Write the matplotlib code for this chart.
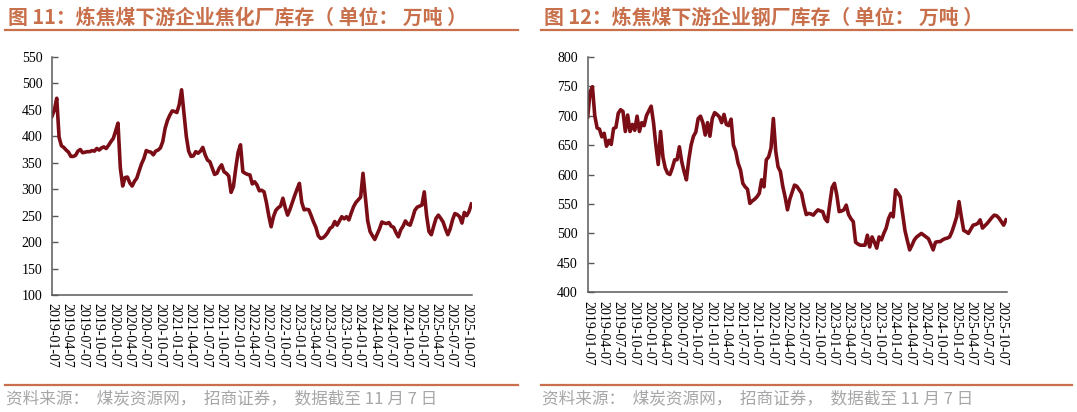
import matplotlib
matplotlib.use("Agg")
import matplotlib.pyplot as plt
import matplotlib.dates as mdates
from matplotlib.lines import Line2D
import pandas as pd

plt.rcParams['font.family'] = ['Liberation Serif', 'Noto Sans CJK SC', 'DejaVu Sans']

# biweekly readings, one row per half year, starting 2019-01-07
START = "2019-01-07"
coking_stock = [
    438, 450, 472, 398, 382, 379, 374, 370, 362, 362, 364, 372, 375,
    369, 370, 371, 371, 373, 372, 377, 374, 378, 380, 377, 383, 390,
    396, 410, 425, 340, 306, 322, 323, 312, 306, 315, 321, 335, 348,
    358, 373, 371, 370, 365, 372, 374, 378, 390, 415, 430, 440, 448,
    447, 445, 460, 488, 445, 400, 372, 362, 363, 371, 368, 372, 379,
    365, 355, 352, 340, 328, 330, 340, 346, 333, 330, 325, 294, 305,
    340, 370, 384, 333, 330, 328, 327, 310, 314, 308, 297, 298, 295,
    275, 250, 229, 248, 260, 265, 268, 283, 265, 251, 262, 275, 288,
    300, 311, 275, 261, 262, 261, 250, 238, 228, 212, 207, 208, 212,
    218, 226, 229, 239, 232, 240, 248, 244, 248, 242, 255, 267, 275,
    280, 285, 330, 285, 240, 220, 212, 205, 215, 225, 238, 236, 235,
    237, 230, 228, 218, 210, 223, 230, 240, 234, 232, 245, 260, 266,
    268, 270, 295, 250, 220, 214, 230, 245, 251, 245, 238, 225, 214,
    225, 242, 254, 252, 248, 236, 256, 250, 258, 272,
]
steel_stock = [
    698, 740, 749, 700, 679, 677, 664, 670, 648, 658, 651, 678, 680,
    704, 710, 707, 673, 701, 673, 685, 675, 699, 673, 688, 683, 700,
    708, 716, 688, 650, 617, 673, 630, 611, 602, 600, 611, 625, 625,
    647, 622, 605, 591, 625, 650, 665, 672, 695, 699, 688, 667, 688,
    665, 695, 705, 702, 698, 688, 702, 685, 683, 694, 650, 639, 619,
    608, 585, 579, 575, 551, 555, 558, 562, 568, 591, 579, 625, 630,
    645, 695, 640, 613, 605, 580, 562, 540, 558, 570, 582, 580, 574,
    568, 548, 532, 534, 533, 531, 536, 540, 538, 537, 525, 520, 550,
    578, 585, 565, 537, 538, 540, 548, 532, 525, 520, 485, 482, 480,
    480, 480, 497, 477, 494, 485, 475, 494, 489, 500, 509, 525, 534,
    528, 574, 568, 562, 534, 505, 488, 472, 480, 489, 494, 497, 500,
    497, 494, 491, 482, 472, 485, 486, 486, 489, 491, 492, 494, 503,
    515, 528, 554, 528, 505, 503, 500, 507, 514, 515, 517, 523, 509,
    513, 517, 522, 527, 531, 530, 526, 520, 514, 523,
]

titles = ["图 11：炼焦煤下游企业焦化厂库存（ 单位： 万吨 ）",
          "图 12：炼焦煤下游企业钢厂库存（ 单位： 万吨 ）"]
source = "资料来源：  煤炭资源网，  招商证券，  数据截至 11 月 7 日"
y_ranges = [(100, 550), (400, 800)]

LINE_COLOR = "#7B0D16"
TITLE_COLOR = "#C8704B"
END = pd.Timestamp("2025-11-07")

fig = plt.figure(figsize=(10.77, 4.12), dpi=100)

boxes = [[0.0483, 0.284, 0.390, 0.5777], [0.5457, 0.2905, 0.389, 0.5719]]
title_x = [0.0075, 0.505]
rule_x = [(0.005, 0.481), (0.502, 0.995)]

tick_dates = [pd.Timestamp(START) + pd.DateOffset(months=3 * k) for k in range(28)]

for n, series in enumerate([coking_stock, steel_stock]):
    dates = pd.date_range(START, periods=len(series), freq="14D")
    ax = fig.add_axes(boxes[n])
    ax.plot(dates, series, color=LINE_COLOR, lw=2.6, solid_joinstyle="round")
    lo, hi = y_ranges[n]
    ax.set_ylim(lo, hi)
    ax.set_yticks(range(lo, hi + 1, 50))
    ax.set_xlim(pd.Timestamp(START), END)
    ax.set_xticks(tick_dates)
    ax.xaxis.set_major_formatter(mdates.DateFormatter("%Y-%m-%d"))
    for lab in ax.get_xticklabels():
        lab.set_rotation(-90)
    ax.tick_params(axis="x", length=0, pad=6, labelsize=10)
    ax.tick_params(axis="y", direction="in", length=4, width=1, color="#595959",
                   pad=7, labelsize=10)
    for s in ["top", "right"]:
        ax.spines[s].set_visible(False)
    for s in ["left", "bottom"]:
        ax.spines[s].set_color("#595959")
        ax.spines[s].set_linewidth(1.1)

    fig.text(title_x[n], 0.958, titles[n], fontsize=14.3, fontweight="bold",
             color=TITLE_COLOR, family=["Noto Sans CJK SC", "DejaVu Sans"],
             va="center", ha="left")
    fig.add_artist(Line2D(rule_x[n], [0.927, 0.927], color=TITLE_COLOR, lw=1.6))
    fig.add_artist(Line2D(rule_x[n], [0.066, 0.066], color=TITLE_COLOR, lw=1.6))
    fig.text(title_x[n] - 0.002, 0.032, source, fontsize=12, color="#A6A6A6",
             family=["Noto Sans CJK SC", "DejaVu Sans"], va="center", ha="left")

fig.savefig("out.png", dpi=100)
